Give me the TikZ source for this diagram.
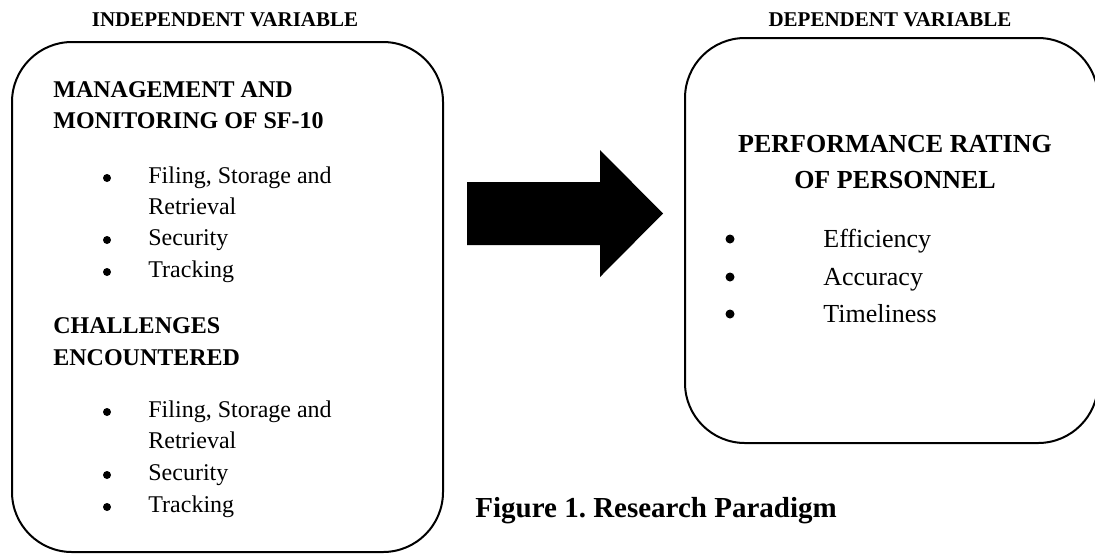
\documentclass[tikz,border=0pt]{standalone}
\usepackage{fontspec}
\setmainfont{Liberation Serif}
\frenchspacing

\tikzset{
  varbox/.style={draw=black, line width=1pt, rounded corners=30pt},
  toplabel/.style={font=\fontsize{10.5}{12}\selectfont\bfseries, anchor=base, inner sep=0pt},
  lefthead/.style={font=\fontsize{12}{14}\selectfont\bfseries, anchor=base west, inner sep=0pt},
  leftitem/.style={font=\fontsize{12}{14}\selectfont, anchor=base west, inner sep=0pt},
  righthead/.style={font=\fontsize{13}{15}\selectfont\bfseries, anchor=base, inner sep=0pt},
  rightitem/.style={font=\fontsize{13}{15}\selectfont, anchor=base west, inner sep=0pt},
  dot/.style={circle, fill=black, inner sep=0pt, minimum size=4pt},
  bigdot/.style={dot, minimum size=4.5pt},
  figcaption/.style={font=\fontsize{14.5}{17}\selectfont\bfseries, anchor=base west, inner sep=0pt}
}

\begin{document}
\begin{tikzpicture}[x=0.5pt, y=-0.5pt]

\useasboundingbox (0,0) rectangle (1095,553);

%the two variable boxes
\node[varbox, minimum width=215.5pt, minimum height=255pt] (indep) at (227.5,297) {};
\node[varbox, minimum width=206.5pt, minimum height=202.5pt] (dep) at (891.5,240.5) {};

%labels above the boxes
\node[toplabel] (indeplabel) at (225,26) {INDEPENDENT VARIABLE};
\node[toplabel] (deplabel) at (890,26) {DEPENDENT VARIABLE};

%big block arrow between the boxes
\fill[black] (467,182) -- (600,182) -- (600,150) -- (663,213.5) -- (600,277) -- (600,245) -- (467,245) -- cycle;

% first group in the left box
\node[lefthead] (mgmt1) at (53,97) {MANAGEMENT AND};
\node[lefthead] (mgmt2) at (53,128) {MONITORING OF SF-10};
\node[dot] (mdot1) at (107,178) {};
\node[leftitem] (mfiling) at (148,183) {Filing, Storage and};
\node[leftitem] (mretrieval) at (148,214) {Retrieval};
\node[dot] (mdot2) at (107,240) {};
\node[leftitem] (msecurity) at (148,245) {Security};
\node[dot] (mdot3) at (107,272) {};
\node[leftitem] (mtracking) at (148,277) {Tracking};

% second group in the left box
\node[lefthead] (chal1) at (53,333) {CHALLENGES};
\node[lefthead] (chal2) at (53,365) {ENCOUNTERED};
\node[dot] (cdot1) at (107,412) {};
\node[leftitem] (cfiling) at (148,417) {Filing, Storage and};
\node[leftitem] (cretrieval) at (148,448) {Retrieval};
\node[dot] (cdot2) at (107,475) {};
\node[leftitem] (csecurity) at (148,480) {Security};
\node[dot] (cdot3) at (107,507) {};
\node[leftitem] (ctracking) at (148,512) {Tracking};

% right box
\node[righthead] (perf1) at (895,152) {PERFORMANCE RATING};
\node[righthead] (perf2) at (895,188) {OF PERSONNEL};
\node[bigdot] (pdot1) at (730,239) {};
\node[rightitem] (efficiency) at (823,247) {Efficiency};
\node[bigdot] (pdot2) at (730,277) {};
\node[rightitem] (accuracy) at (823,285) {Accuracy};
\node[bigdot] (pdot3) at (730,314) {};
\node[rightitem] (timeliness) at (823,322) {Timeliness};

%caption
\node[figcaption] (caption) at (475,517) {Figure 1. Research Paradigm};

\end{tikzpicture}
\end{document}
